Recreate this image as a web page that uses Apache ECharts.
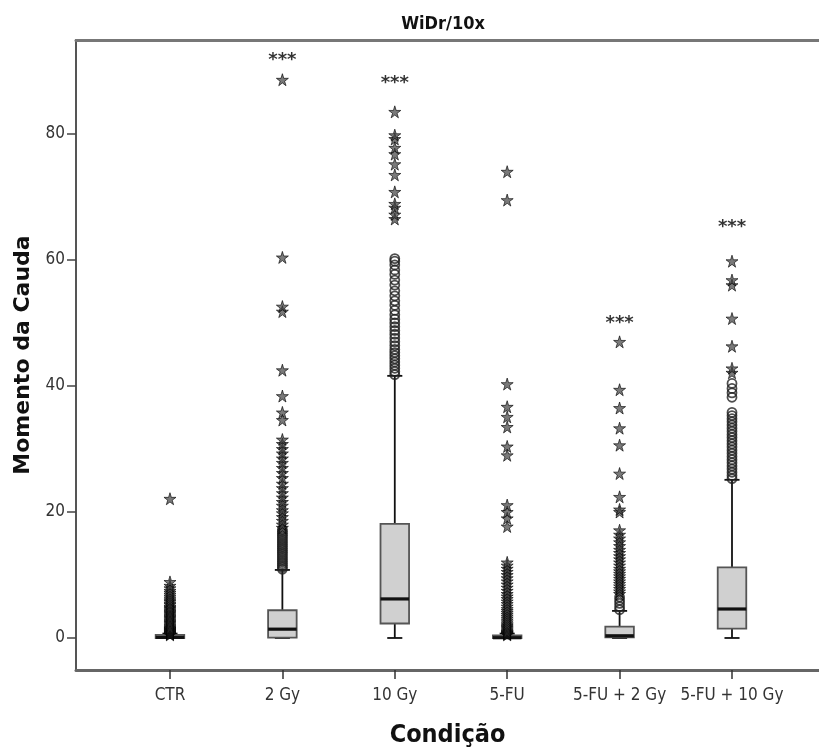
<!DOCTYPE html>
<html>
<head>
<meta charset="utf-8">
<script src="https://cdn.jsdelivr.net/npm/echarts@6/dist/echarts.min.js"></script>
<style>
html,body{margin:0;padding:0;background:#fff;}
#chart{width:819px;height:753px;}
</style>
</head>
<body>
<div id="chart"></div>
<script>
// ---------- DATA ----------
const categories = ['CTR', '2 Gy', '10 Gy', '5-FU', '5-FU + 2 Gy', '5-FU + 10 Gy'];
const yTicks = [0, 20, 40, 60, 80];

// box statistics per category
const whiskerLow  = [0,   0,    0,    0,    0,    0];
const q1          = [0,   0.05, 2.3,  0,    0.1,  1.5];
const median      = [0.1, 1.4,  6.2,  0.05, 0.35, 4.6];
const q3          = [0.5, 4.4,  18.1, 0.4,  1.8,  11.2];
const whiskerHigh = [0.7, 10.8, 41.6, 0.7,  4.3,  25.1];

// outliers (circles = mild, stars = extreme)
const ctrCircles = [];
const ctrStars = [0.5,0.6,0.7,0.8,0.9,1.0,1.1,1.2,1.3,1.4,1.5,1.6,1.8,2.0,2.2,2.4,2.6,2.8,3.0,3.2,3.4,3.6,3.8,4.0,4.2,4.4,4.6,4.8,5.0,5.3,5.5,5.8,6.0,6.3,6.6,6.9,7.2,7.5,7.9,8.3,8.9,22.1];

const gy2Circles = [10.9,11.2,11.5,11.8,12.1,12.4,12.7,13.0,13.3,13.6,13.9,14.2,14.5,14.8,15.1,15.4,15.7,16.0,16.3,16.6,16.9,17.2];
const gy2Stars = [17.5,18.0,18.6,19.2,19.8,20.3,21.0,21.6,22.3,23.0,23.8,24.5,25.4,26.2,27.0,27.8,28.5,29.3,30.0,30.8,31.5,34.6,35.8,38.4,42.5,51.8,52.6,60.4,88.6];

const gy10Circles = [41.8,42.3,42.8,43.3,43.8,44.3,44.8,45.3,45.8,46.4,47.0,47.6,48.2,48.8,49.4,50.0,50.6,51.3,52.0,52.8,53.5,54.3,55.1,56.0,56.8,57.7,58.4,59.2,59.8,60.2];
const gy10Stars = [66.5,67.2,68.3,68.9,70.8,73.5,75.2,76.8,77.8,79.2,79.8,83.5];

const fuCircles = [];
const fuStars = [0.5,0.6,0.7,0.8,0.9,1.0,1.2,1.4,1.6,1.8,2.0,2.2,2.5,2.8,3.1,3.4,3.7,4.0,4.3,4.6,5.0,5.4,5.8,6.2,6.6,7.0,7.5,8.0,8.5,9.0,9.5,10.0,10.5,11.0,11.5,12.0,17.7,19.0,20.0,21.1,29.0,30.4,33.5,35.1,36.7,40.3,69.5,74.0];

const fu2Circles = [4.5,5.0,5.5,6.0,6.5];
const fu2Stars = [7.0,7.4,7.8,8.2,8.6,9.0,9.4,9.8,10.2,10.6,11.0,11.5,12.0,12.5,13.0,13.5,14.0,14.6,15.2,15.8,16.4,17.1,20.0,20.4,22.4,26.1,30.6,33.3,36.5,39.4,47.0];

const fu10Circles = [25.3,25.8,26.3,26.8,27.3,27.8,28.3,28.8,29.3,29.8,30.3,30.8,31.3,31.8,32.3,32.8,33.3,33.8,34.3,34.8,35.3,35.8,38.2,38.9,39.6,40.4];
const fu10Stars = [42.1,42.8,46.3,50.7,56.0,56.8,59.8];

const circleGroups = [ctrCircles, gy2Circles, gy10Circles, fuCircles, fu2Circles, fu10Circles];
const starGroups = [ctrStars, gy2Stars, gy10Stars, fuStars, fu2Stars, fu10Stars];

// significance marks
const sigX = [1, 2, 4, 5];
const sigY = [91.6, 88.1, 50.0, 65.2];
const sigText = ['***', '***', '***', '***'];

// ---------- BUILD ----------
const boxData = categories.map((c, i) => [i, whiskerLow[i], q1[i], median[i], q3[i], whiskerHigh[i]]);
const circleData = [];
circleGroups.forEach((g, i) => g.forEach(v => circleData.push([i, v])));
const starData = [];
starGroups.forEach((g, i) => g.forEach(v => starData.push([i, v])));
const sigData = sigX.map((x, i) => ({ value: [x, sigY[i]], label: { formatter: sigText[i] } }));

const STAR = 'path://M50,0 L61,35 L98,35 L68,57 L79,91 L50,70 L21,91 L32,57 L2,35 L39,35 Z';

function renderBox(params, api) {
  const x = api.value(0);
  const lo = api.value(1), a = api.value(2), md = api.value(3), b = api.value(4), hi = api.value(5);
  const hw = 0.127, cw = 0.067;
  const tl = api.coord([x - hw, b]);
  const br = api.coord([x + hw, a]);
  const pLo = api.coord([x, lo]);
  const pHi = api.coord([x, hi]);
  const pA = api.coord([x, a]);
  const pB = api.coord([x, b]);
  const capL = api.coord([x - cw, 0])[0];
  const capR = api.coord([x + cw, 0])[0];
  const pM = api.coord([x, md]);
  const lineStyle = { stroke: '#111', lineWidth: 1.8 };
  return {
    type: 'group',
    children: [
      { type: 'line', shape: { x1: pB[0], y1: pB[1], x2: pHi[0], y2: pHi[1] }, style: lineStyle },
      { type: 'line', shape: { x1: pA[0], y1: pA[1], x2: pLo[0], y2: pLo[1] }, style: lineStyle },
      { type: 'line', shape: { x1: capL, y1: pHi[1], x2: capR, y2: pHi[1] }, style: lineStyle },
      { type: 'line', shape: { x1: capL, y1: pLo[1], x2: capR, y2: pLo[1] }, style: lineStyle },
      { type: 'rect', shape: { x: tl[0], y: tl[1], width: br[0] - tl[0], height: Math.max(br[1] - tl[1], 1) },
        style: { fill: '#d0d0d0', stroke: '#555', lineWidth: 1.8 } },
      { type: 'line', shape: { x1: tl[0], y1: pM[1], x2: br[0], y2: pM[1] }, style: { stroke: '#111', lineWidth: 3.2 } }
    ]
  };
}

const chart = echarts.init(document.getElementById('chart'), null, { renderer: 'canvas' });
const labelFont = "'Liberation Sans Narrow', 'DejaVu Sans Condensed', sans-serif";

chart.setOption({
  backgroundColor: '#ffffff',
  animation: false,
  title: {
    text: 'WiDr/10x',
    left: 438,
    top: 10,
    textAlign: 'center',
    textStyle: { fontFamily: labelFont, fontSize: 18, fontWeight: 'bold', color: '#111' }
  },
  grid: { left: 76, right: 0, top: 40, bottom: 83, containLabel: false },
  xAxis: [
    {
      type: 'value', min: -0.836, max: 5.774, position: 'bottom',
      name: 'Condição', nameLocation: 'middle', nameGap: 53,
      nameTextStyle: { fontFamily: labelFont, fontSize: 25, fontWeight: 'bold', color: '#111' },
      axisLine: { show: true, onZero: false, lineStyle: { color: '#666', width: 3 } },
      axisTick: { show: true, length: 9, customValues: [0, 1, 2, 3, 4, 5], lineStyle: { color: '#333', width: 1.5 } },
      axisLabel: { customValues: [0, 1, 2, 3, 4, 5], formatter: v => categories[Math.round(v)], margin: 17,
        fontFamily: labelFont, fontSize: 17, color: '#333' },
      splitLine: { show: false }
    },
    {
      type: 'value', min: -0.836, max: 5.774, position: 'top',
      axisLine: { show: true, onZero: false, lineStyle: { color: '#777', width: 3 } },
      axisTick: { show: false }, axisLabel: { show: false }, splitLine: { show: false }
    }
  ],
  yAxis: {
    type: 'value', min: -5.08, max: 94.9,
    name: 'Momento da Cauda', nameLocation: 'middle', nameGap: 32,
    nameTextStyle: { fontFamily: "'DejaVu Sans', sans-serif", fontSize: 22, fontWeight: 'bold', color: '#111' },
    axisLine: { show: true, onZero: false, lineStyle: { color: '#555', width: 2 } },
    axisTick: { show: true, length: 9, customValues: yTicks, lineStyle: { color: '#444', width: 1.5 } },
    axisLabel: { customValues: yTicks, margin: 11, fontFamily: labelFont, fontSize: 17, color: '#333' },
    splitLine: { show: false }
  },
  series: [
    {
      type: 'custom', name: 'box', renderItem: renderBox, data: boxData, z: 2,
      encode: { x: 0, y: [1, 2, 3, 4, 5] }
    },
    {
      type: 'scatter', name: 'circles', data: circleData, symbol: 'circle', symbolSize: 9, z: 3,
      itemStyle: { color: 'rgba(255,255,255,0)', borderColor: '#222', borderWidth: 1.8 }
    },
    {
      type: 'scatter', name: 'stars', data: starData, symbol: STAR, symbolSize: 12, z: 4,
      itemStyle: { color: 'rgba(60,60,60,0.85)', borderColor: '#000', borderWidth: 0.8 }
    },
    {
      type: 'scatter', name: 'sig', data: sigData, symbolSize: 0, z: 5,
      label: { show: true, position: 'inside', fontFamily: "'DejaVu Sans', sans-serif", fontSize: 18,
        fontWeight: 'bold', color: '#000' }
    }
  ]
});
</script>
</body>
</html>
